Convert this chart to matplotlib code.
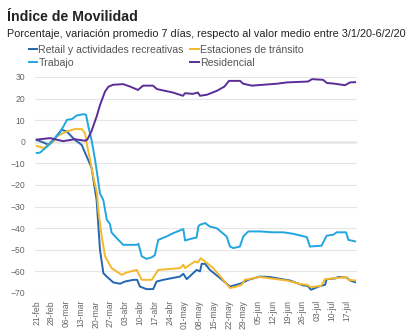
import numpy as np
import pandas as pd
import matplotlib
matplotlib.use("Agg")
import matplotlib.pyplot as plt

## Data (day offsets from 21-feb-2020, value in %)
start = pd.Timestamp("2020-02-21")

retail_day = [0, 3.9, 5.5, 7.9, 11.8, 14.2, 18.1, 21.3, 23.7, 26, 28.4, 30, 31.6, 33.2, 36.3,
              39.5, 41.8, 45.8, 47.6, 48.9, 52, 55.2, 56.8, 60, 67.9, 69.5, 71.1, 75.8, 77.4,
              78.2, 79.8, 82.1, 86.9, 91.6, 96.4, 100.3, 105.8, 110.5, 120, 126.3, 128.4, 130,
              133.7, 136.7, 137.4, 141.3, 142.9, 146.8, 148.5, 150.9]
retail_val = [0.9, -0.6, -1.4, 0.9, 5.6, 4.8, 0.9, -1.4, -6.8, -12, -27, -50, -60.8, -62.4, -65.1,
              -65.7, -64.7, -63.9, -63.9, -67, -68.2, -68.2, -64.7, -63.9, -62.4, -61.1, -63.6, -59.3, -60,
              -56.5, -56.5, -59.3, -63.1, -67, -65.7, -63.9, -62.4, -62.6, -64.2, -66.5, -66.7, -68.5,
              -67, -66.2, -63.6, -63.3, -62.6, -62.8, -64.2, -65]

transit_day = [0, 3.4, 7.9, 9.4, 14.2, 18.1, 21.3, 22.9, 24, 25.3, 26.8, 28.6, 29.2, 30.8, 32.4,
               35.5, 40.3, 42.7, 47.4, 49.8, 54.5, 57.6, 67.9, 69.5, 70.3, 74.9, 76.4, 77.7, 79.8,
               83.7, 87.7, 91.6, 94.8, 97.1, 98.6, 105.8, 118.5, 125, 128, 130, 132.4, 134.8, 136.6,
               142.2, 146.8, 147.6, 150.9]
transit_val = [-1.9, -2.9, 0.1, 2.5, 4.8, 5.9, 5.9, 4, -2.2, -8.3, -16, -24, -31.5, -43.8, -53,
               -58.5, -61.6, -60.5, -59.3, -63.9, -63.9, -59.3, -58.5, -56.9, -58.5, -55.4, -55.9, -53.9, -55.4,
               -58.5, -63.1, -67.7, -67, -66.2, -63.9, -62.6, -64.2, -65.9, -66.2, -67.3, -67, -66.7, -63.6,
               -63.1, -62.6, -63.9, -64.2]

work_day = [0, 1.6, 6.3, 11, 14.4, 16.7, 19, 22.3, 23.4, 24.5, 26, 27.6, 28.4, 30, 31.6, 33.2,
            34.7, 35.5, 37.9, 41, 47.4, 48.2, 49.8, 52, 54.5, 56, 57.6, 61.6, 64.7, 68.7, 69.5, 70.3,
            72.7, 75.8, 76.6, 77.4, 79.8, 82, 85.3, 90, 91.6, 93.2, 96.3, 97.9, 100.3, 105.8, 112,
            116.9, 121.6, 128, 129.5, 135, 137.4, 140.6, 142.2, 146.6, 147.7, 150.9]
work_val = [-5.2, -5, -1, 4.2, 10.2, 10.5, 12.2, 12.8, 12.5, 7, 0.9, -8, -13, -24, -27, -36,
            -38, -42, -44.6, -47.7, -47.7, -47.2, -53, -54.2, -53.5, -52.5, -45.4, -43.8, -42.3, -40.7, -40.4, -45.7,
            -45, -44.3, -39.2, -38.4, -37.6, -39.2, -40, -43.8, -48.5, -49.2, -48.5, -43.8, -41.5, -41.5, -41.9,
            -41.9, -42.6, -44.1, -48.5, -48.1, -43.5, -43, -41.9, -41.9, -45.4, -46.1]

home_day = [0, 6.3, 12.5, 18, 22.9, 24, 26, 28.4, 30, 32.4, 34, 36.2, 41, 44.2, 48, 50.4,
            55.1, 57, 64.6, 69.3, 70.3, 74, 76.4, 77.4, 80.7, 85.4, 89, 91.1, 96.4, 97.8, 102,
            107.2, 113.9, 118.6, 128.6, 130.5, 135.7, 137.6, 140.4, 146.1, 148.5, 150.9]
home_val = [1.0, 1.7, 0.3, 1.2, 0.5, 1, 5, 11.7, 17, 23.3, 25.5, 26.4, 26.7, 25.6, 24, 26,
            26, 24.4, 22.8, 21.3, 22.5, 22.2, 22.8, 21.3, 21.8, 23.6, 25.6, 28.2, 28.2, 26.9, 26,
            26.4, 26.9, 27.5, 27.9, 29, 28.7, 27.2, 27, 26.2, 27.5, 27.6]

labels = ["Retail y actividades recreativas", "Estaciones de tránsito", "Trabajo", "Residencial"]
colors = ["#2566b0", "#f5b82a", "#22a6df", "#5b2d98"]
month_names = {2: "feb", 3: "mar", 4: "abr", 5: "may", 6: "jun", 7: "jul"}

def to_dates(days):
    return start + pd.to_timedelta(np.array(days), unit="D")

plt.rcParams["font.family"] = ["Liberation Sans", "DejaVu Sans"]

fig = plt.figure(figsize=(4.09, 3.34), dpi=100)
ax = fig.add_axes([35/409, 1-293/334, 322/409, 216/334])

series = [(retail_day, retail_val), (transit_day, transit_val), (work_day, work_val), (home_day, home_val)]
handles = []
for (d, v), lab, c in zip(series, labels, colors):
    h, = ax.plot(to_dates(d), v, color=c, lw=1.4, label=lab)
    handles.append(h)

# legend row-wise: retail, transit / work, residential
order = [0, 2, 1, 3]
fig.legend([handles[i] for i in order], [labels[i] for i in order], ncol=2,
           loc="upper left", bbox_to_anchor=(29/409, 1-45/334), frameon=False,
           fontsize=7.6, handlelength=0.8, handletextpad=0.1, columnspacing=0.6,
           labelspacing=0.3, borderpad=0, borderaxespad=0, labelcolor="#555555")

ax.set_ylim(-70, 30)
ax.set_yticks(np.arange(-70, 31, 10))
ax.set_xlim(start - pd.Timedelta(days=0.8), start + pd.Timedelta(days=151.8))
xt = pd.date_range(start, periods=22, freq="7D")
ax.set_xticks(xt)
ax.set_xticklabels([f"{t.day:02d}-{month_names[t.month]}" for t in xt], rotation=90)

ax.grid(axis="y", color="#e6e6e6", lw=0.8)
ax.axhline(0, color="#777777", lw=0.9, zorder=1)
for s in ax.spines.values():
    s.set_visible(False)
ax.tick_params(axis="both", length=0, labelsize=6.2, colors="#666666")
ax.tick_params(axis="y", pad=7)
ax.tick_params(axis="x", pad=5)

fig.text(7/409, 1-21/334, "Índice de Movilidad", fontsize=10.2, fontweight="bold", color="#222222")
fig.text(7/409, 1-37/334, "Porcentaje, variación promedio 7 días, respecto al valor medio entre 3/1/20-6/2/20",
         fontsize=7.8, color="#222222")

fig.savefig("out.png", dpi=100)
